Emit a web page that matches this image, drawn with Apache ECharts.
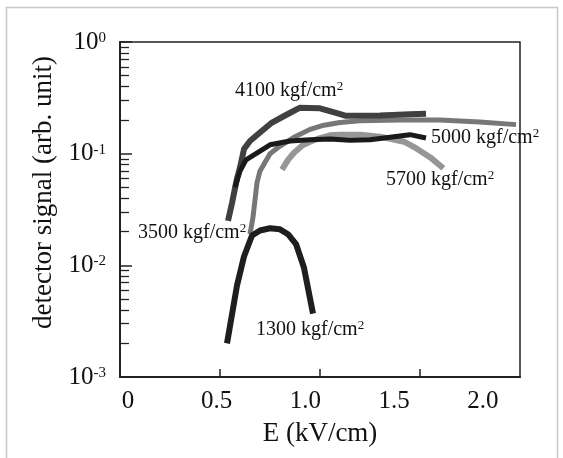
<!DOCTYPE html>
<html>
<head>
<meta charset="utf-8">
<script src="https://cdn.jsdelivr.net/npm/echarts@6/dist/echarts.min.js"></script>
<style>
html,body{margin:0;padding:0;background:#fff;}
#chart{width:563px;height:458px;}
</style>
</head>
<body>
<div id="chart"></div>
<script>
// ---- data (E in kV/cm, signal in arb. unit) ----
const e1300 = [0.535, 0.585, 0.62, 0.66, 0.70, 0.75, 0.80, 0.84, 0.88, 0.92, 0.965];
const s1300 = [0.002, 0.0066, 0.012, 0.0185, 0.0205, 0.0215, 0.021, 0.019, 0.0155, 0.0095, 0.0037];

const e3500 = [0.65, 0.665, 0.685, 0.70, 0.75, 0.80, 0.87, 0.95, 1.02, 1.10, 1.20, 1.40, 1.60, 1.80, 1.98];
const s3500 = [0.019, 0.027, 0.055, 0.07, 0.1, 0.117, 0.14, 0.165, 0.18, 0.19, 0.197, 0.2, 0.2, 0.192, 0.182];

const e4100 = [0.54, 0.56, 0.585, 0.60, 0.62, 0.65, 0.70, 0.76, 0.83, 0.90, 1.00, 1.08, 1.13, 1.30, 1.45, 1.53];
const s4100 = [0.025, 0.036, 0.06, 0.075, 0.11, 0.13, 0.155, 0.19, 0.222, 0.258, 0.255, 0.232, 0.218, 0.22, 0.225, 0.228];

const e5000 = [0.575, 0.60, 0.63, 0.68, 0.75, 0.85, 0.95, 1.05, 1.15, 1.25, 1.35, 1.45, 1.53];
const s5000 = [0.05, 0.07, 0.088, 0.1, 0.12, 0.13, 0.133, 0.135, 0.132, 0.133, 0.14, 0.148, 0.138];

const e5700 = [0.81, 0.84, 0.87, 0.91, 0.95, 1.00, 1.05, 1.10, 1.20, 1.30, 1.42, 1.48, 1.55, 1.617];
const s5700 = [0.072, 0.088, 0.102, 0.118, 0.128, 0.138, 0.146, 0.148, 0.148, 0.142, 0.128, 0.112, 0.093, 0.074];

const xTickValues = [0, 0.5, 1.0, 1.5, 2.0];
const xTickLabels = ['0', '0.5', '1.0', '1.5', '2.0'];
const yMajorValues = [0.001, 0.01, 0.1, 1];
const yMajorExponents = ['-3', '-2', '-1', '0'];
const yMinorMultipliers = [2, 3, 4, 5, 6, 7, 8, 9];

const curveNames = ['1300', '3500', '4100', '5000', '5700'];
const annotationText = ['1300 kgf/cm', '3500 kgf/cm', '4100 kgf/cm', '5000 kgf/cm', '5700 kgf/cm'];
// -------------------------------------------------------------------------

function zip(xs, ys) { return xs.map((x, i) => [x, ys[i]]); }

const yMinorValues = [];
[0.001, 0.01, 0.1].forEach(d => yMinorMultipliers.forEach(m => yMinorValues.push(+(d * m).toPrecision(3))));

const SERIF = '"Liberation Serif", "DejaVu Serif", serif';

const lineStyles = {
  '1300': { color: '#1e1e1e', width: 6 },
  '3500': { color: '#777777', width: 5 },
  '4100': { color: '#404040', width: 6 },
  '5000': { color: '#1a1a1a', width: 5 },
  '5700': { color: '#969696', width: 6 }
};
const dataMap = {
  '1300': zip(e1300, s1300),
  '3500': zip(e3500, s3500),
  '4100': zip(e4100, s4100),
  '5000': zip(e5000, s5000),
  '5700': zip(e5700, s5700)
};
const drawOrder = ['5700', '3500', '4100', '5000', '1300'];

const annotationPos = {
  '4100': [235, 91],
  '5000': [431, 138],
  '5700': [386, 180],
  '3500': [138, 233],
  '1300': [256, 330]
};

const chart = echarts.init(document.getElementById('chart'), null, { renderer: 'canvas' });

const option = {
  backgroundColor: '#fff',
  animation: false,
  textStyle: { fontFamily: SERIF },
  grid: { left: 120, right: 43, top: 42, bottom: 81, show: true, borderColor: '#222', borderWidth: 1.5, containLabel: false },
  xAxis: [
    {
      type: 'value', min: 0, max: 2.0, offset: 0,
      name: 'E (kV/cm)', nameLocation: 'middle', nameGap: 43,
      nameTextStyle: { fontSize: 27, color: '#111', fontFamily: SERIF },
      axisLine: { show: true, onZero: false, lineStyle: { color: '#222', width: 2 } },
      axisTick: { show: true, inside: true, length: 8, customValues: xTickValues.slice(1, 4), lineStyle: { color: '#222', width: 1.5 } },
      axisLabel: { show: false },
      splitLine: { show: false }
    },
    {
      type: 'value', min: -0.045, max: 2.2085, position: 'bottom', offset: 0,
      axisLine: { show: false, onZero: false }, axisTick: { show: false }, splitLine: { show: false },
      axisLabel: {
        show: true, margin: 12, fontSize: 25, color: '#111', fontFamily: SERIF,
        customValues: xTickValues,
        formatter: v => { const i = xTickValues.findIndex(t => Math.abs(t - v) < 1e-6); return i >= 0 ? xTickLabels[i] : ''; }
      }
    }
  ],
  yAxis: [
    {
      type: 'log', logBase: 10, min: 0.001, max: 1, offset: 0,
      name: 'detector signal (arb. unit)', nameLocation: 'middle', nameGap: 60,
      nameTextStyle: { fontSize: 27, color: '#111', fontFamily: SERIF, padding: [0, 0, 0, 34] },
      axisLine: { show: true, onZero: false, lineStyle: { color: '#222', width: 2 } },
      axisTick: { show: true, inside: true, length: 12, customValues: yMajorValues, lineStyle: { color: '#222', width: 1.5 } },
      axisLabel: {
        show: true, margin: 14, color: '#111', fontFamily: SERIF,
        customValues: yMajorValues,
        formatter: v => {
          const i = yMajorValues.findIndex(t => Math.abs(Math.log10(t) - Math.log10(v)) < 1e-6);
          return i >= 0 ? '{b|10}{s|' + yMajorExponents[i] + '}' : '';
        },
        rich: {
          b: { fontSize: 25, fontFamily: SERIF, color: '#111' },
          s: { fontSize: 15, fontFamily: SERIF, color: '#111', padding: [0, 0, 8, 0] }
        }
      },
      splitLine: { show: false }
    },
    {
      type: 'log', logBase: 10, min: 0.001, max: 1, position: 'left', offset: 0,
      axisLine: { show: false, onZero: false },
      axisTick: { show: true, inside: true, length: 9, customValues: yMinorValues, lineStyle: { color: '#222', width: 1.3 } },
      axisLabel: { show: false },
      splitLine: { show: false }
    }
  ],
  series: drawOrder.map(k => ({
    name: k + ' kgf/cm2',
    type: 'line',
    xAxisIndex: 0, yAxisIndex: 0,
    data: dataMap[k],
    showSymbol: false, symbol: 'none',
    lineStyle: { color: lineStyles[k].color, width: lineStyles[k].width, join: 'round', cap: 'butt' },
    smooth: false,
    z: 2
  })),
  graphic: [
    {
      type: 'rect', silent: true, z: -10,
      shape: { x: 6.5, y: 7.5, width: 551, height: 470 },
      style: { fill: null, stroke: '#c8c8c8', lineWidth: 1.5 }
    }
  ].concat(curveNames.map((k, i) => ({
    type: 'text', silent: true, z: 100,
    x: annotationPos[k][0], y: annotationPos[k][1],
    style: {
      text: '{n|' + annotationText[i] + '}{s|2}',
      verticalAlign: 'middle', align: 'left',
      rich: {
        n: { fontSize: 20, fontFamily: SERIF, fill: '#111' },
        s: { fontSize: 13, fontFamily: SERIF, fill: '#111', padding: [0, 0, 8, 0] }
      }
    }
  })))
};

chart.setOption(option);
</script>
</body>
</html>
